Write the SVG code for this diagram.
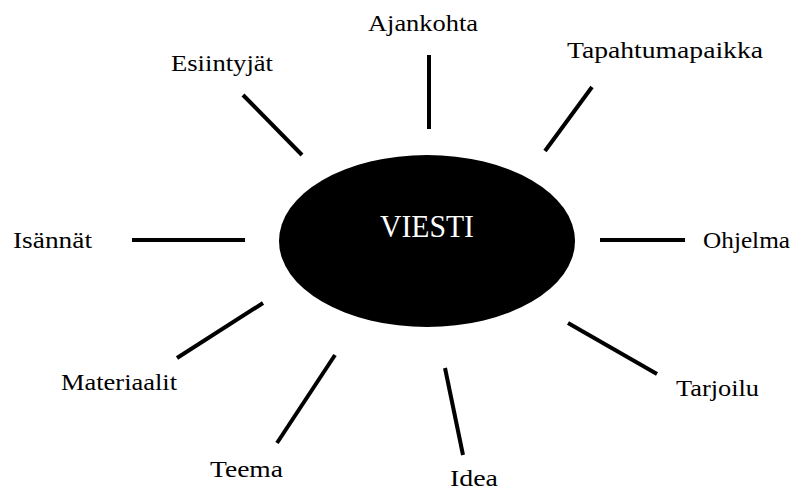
<svg xmlns="http://www.w3.org/2000/svg" width="795" height="490" viewBox="0 0 795 490">
<style>
.lbl{font-family:"Liberation Serif","Times New Roman",serif;font-size:24px;fill:#000}
.ln{stroke:#000;stroke-width:4;fill:none}
</style>
<rect width="795" height="490" fill="#fff"/>
<g id="connectors">
<line class="ln" x1="429" y1="55" x2="429" y2="129"/>
<line class="ln" x1="592" y1="87" x2="545" y2="151"/>
<line class="ln" x1="243" y1="95" x2="302" y2="155"/>
<line class="ln" x1="132" y1="240" x2="245" y2="240"/>
<line class="ln" x1="600" y1="240" x2="685" y2="240"/>
<line class="ln" x1="263" y1="303" x2="177" y2="358"/>
<line class="ln" x1="335" y1="355" x2="277" y2="443"/>
<line class="ln" x1="445" y1="368" x2="463" y2="455"/>
<line class="ln" x1="568" y1="323" x2="657" y2="374"/>
</g>
<g id="viesti">
<ellipse cx="427" cy="241" rx="148" ry="86" fill="#000"/>
<text x="427" y="237" text-anchor="middle" font-family="Liberation Serif,'Times New Roman',serif" font-size="31" fill="#fff" textLength="94" lengthAdjust="spacingAndGlyphs">VIESTI</text>
</g>
<g id="ajankohta"><text class="lbl" x="368" y="31" textLength="110" lengthAdjust="spacingAndGlyphs">Ajankohta</text></g>
<g id="tapahtumapaikka"><text class="lbl" x="567" y="58" textLength="196" lengthAdjust="spacingAndGlyphs">Tapahtumapaikka</text></g>
<g id="esiintyjat"><text class="lbl" x="171" y="71" textLength="102" lengthAdjust="spacingAndGlyphs">Esiintyjät</text></g>
<g id="isannat"><text class="lbl" x="13" y="248" textLength="79" lengthAdjust="spacingAndGlyphs">Isännät</text></g>
<g id="ohjelma"><text class="lbl" x="703" y="248" textLength="87" lengthAdjust="spacingAndGlyphs">Ohjelma</text></g>
<g id="materiaalit"><text class="lbl" x="61" y="390" textLength="116" lengthAdjust="spacingAndGlyphs">Materiaalit</text></g>
<g id="teema"><text class="lbl" x="210" y="477" textLength="73" lengthAdjust="spacingAndGlyphs">Teema</text></g>
<g id="idea"><text class="lbl" x="450" y="486" textLength="48" lengthAdjust="spacingAndGlyphs">Idea</text></g>
<g id="tarjoilu"><text class="lbl" x="676" y="396" textLength="83" lengthAdjust="spacingAndGlyphs">Tarjoilu</text></g>
</svg>
